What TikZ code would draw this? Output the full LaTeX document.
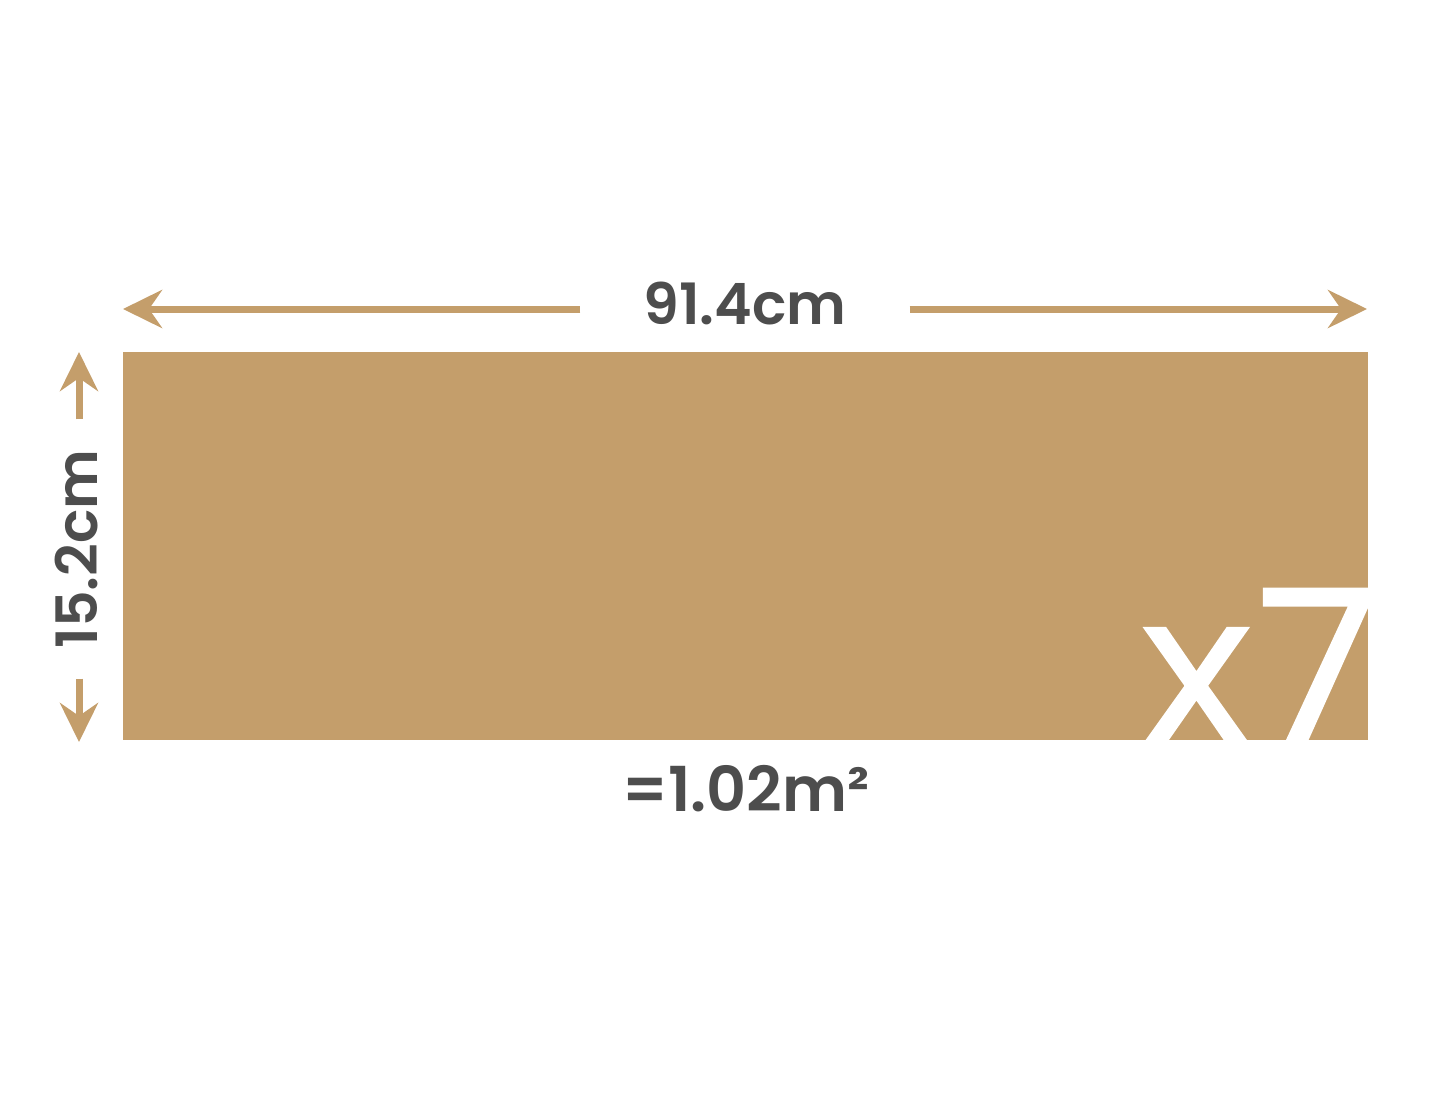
\documentclass[tikz,border=0pt]{standalone}
\usepackage{fontspec}
\setmainfont{Poppins}[BoldFont=* SemiBold]
\newfontfamily\countfont{Open Sans}[UprightFeatures={FakeBold=1.2}]
\usetikzlibrary{arrows.meta}
\definecolor{board}{RGB}{196,158,107}
\definecolor{inkgray}{RGB}{77,77,77}
\begin{document}
\begin{tikzpicture}[x=1pt,y=-1pt,
	dim/.style={board,line width=7pt,-{Stealth[length=39pt,width=38pt,inset=13pt]}},
	lbl/.style={text=inkgray,font=\fontsize{57}{57}\selectfont\bfseries,inner ysep=0pt}]
	\useasboundingbox (0,0) rectangle (1445,1112);
	\fill[board] (123,352) rectangle (1368,740);
	\begin{scope}
		\clip (123,352) rectangle (1368,740);
		\node[white,font=\countfont\fontsize{220}{220}\selectfont,anchor=base east,inner sep=0pt] (count) at (1380,746) {x7};
	\end{scope}
	\node[lbl,inner xsep=63pt] (width) at (745,303) {91.4cm};
	\coordinate (wl) at (123,309);
	\coordinate (wr) at (1367,309);
	\draw[dim] (width.west |- wl) -- (wl);
	\draw[dim] (width.east |- wr) -- (wr);
	\node[lbl,rotate=90,inner xsep=30pt] (height) at (77,549) {15.2cm};
	\coordinate (ht) at (79,352);
	\coordinate (hb) at (79,742);
	\draw[dim] (height.east -| ht) -- (ht);
	\draw[dim] (height.west -| hb) -- (hb);
	\node[lbl,font=\fontsize{62}{62}\selectfont\bfseries] (area) at (746,789) {=1.02m²};
\end{tikzpicture}
\end{document}
